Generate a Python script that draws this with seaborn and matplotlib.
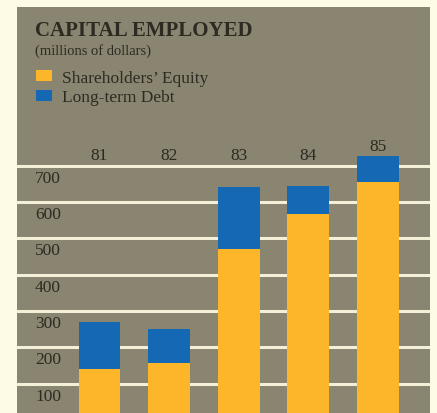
import matplotlib
matplotlib.use("Agg")
import matplotlib.pyplot as plt
from matplotlib.patches import Patch
import pandas as pd
import seaborn as sns

# Capital employed, millions of dollars
years = ["81", "82", "83", "84", "85"]
equity = [140, 157, 471, 567, 654]
debt = [129, 92, 169, 76, 73]
grid_values = [100, 200, 300, 400, 500, 600, 700]
series_names = ["Shareholders\u2019 Equity", "Long-term Debt"]

cream = "#fdfbe6"
panel = "#8a8570"
yellow = "#fdb52a"
blue = "#1568b4"
ink = "#2e2a22"
line_col = "#f4f0d8"

sns.set_theme(style="white")
plt.rcParams["font.family"] = ["Liberation Serif", "DejaVu Serif"]

df = pd.DataFrame({"year": years, "equity": equity, "debt": debt})
df["total"] = df["equity"] + df["debt"]

fig = plt.figure(figsize=(4.37, 4.14), dpi=100)
fig.patch.set_facecolor(cream)
ax = fig.add_axes([17 / 437, 0, 413 / 437, 406 / 414])
ax.set_facecolor(panel)
for s in ax.spines.values():
    s.set_visible(False)

# horizontal rules behind the bars
for v in grid_values:
    ax.axhline(v, color=line_col, lw=2.2, zorder=0)

# stacked bars: total in blue, equity drawn over it in yellow
sns.barplot(data=df, x="year", y="total", color=blue, width=0.6,
            saturation=1, linewidth=0, ax=ax, zorder=2)
sns.barplot(data=df, x="year", y="equity", color=yellow, width=0.6,
            saturation=1, linewidth=0, ax=ax, zorder=3)

ax.set_xlim(-1.185, 4.747)
ax.set_ylim(19, 1137)
ax.set_xticks([])
ax.set_yticks([])
ax.set_xlabel("")
ax.set_ylabel("")

# value labels sit just under each rule
for v in grid_values:
    ax.text(-0.74, v - 33, str(v), ha="center", va="center",
            fontsize=12.5, color=ink, zorder=4)

# year labels above the bars
for i, (yr, tot) in enumerate(zip(years, df["total"])):
    ax.text(i, max(729, tot + 27), yr, ha="center", va="center",
            fontsize=12.5, color=ink, zorder=4)

fig.text(35 / 437, 1 - 31 / 414, "CAPITAL EMPLOYED", ha="left", va="center",
         fontsize=15, fontweight="bold", color=ink)
fig.text(35 / 437, 1 - 51 / 414, "(millions of dollars)", ha="left",
         va="center", fontsize=10.5, color=ink)

handles = [Patch(facecolor=yellow, edgecolor="none"),
           Patch(facecolor=blue, edgecolor="none")]
fig.legend(handles, series_names, loc="upper left",
           bbox_to_anchor=(22 / 437, 1 - 57 / 414), frameon=False,
           fontsize=12.5, handlelength=0.95, handleheight=0.6,
           handletextpad=0.55, labelspacing=0.2, borderpad=0.3,
           labelcolor=ink)

fig.savefig("out.png", dpi=100, facecolor=cream)
